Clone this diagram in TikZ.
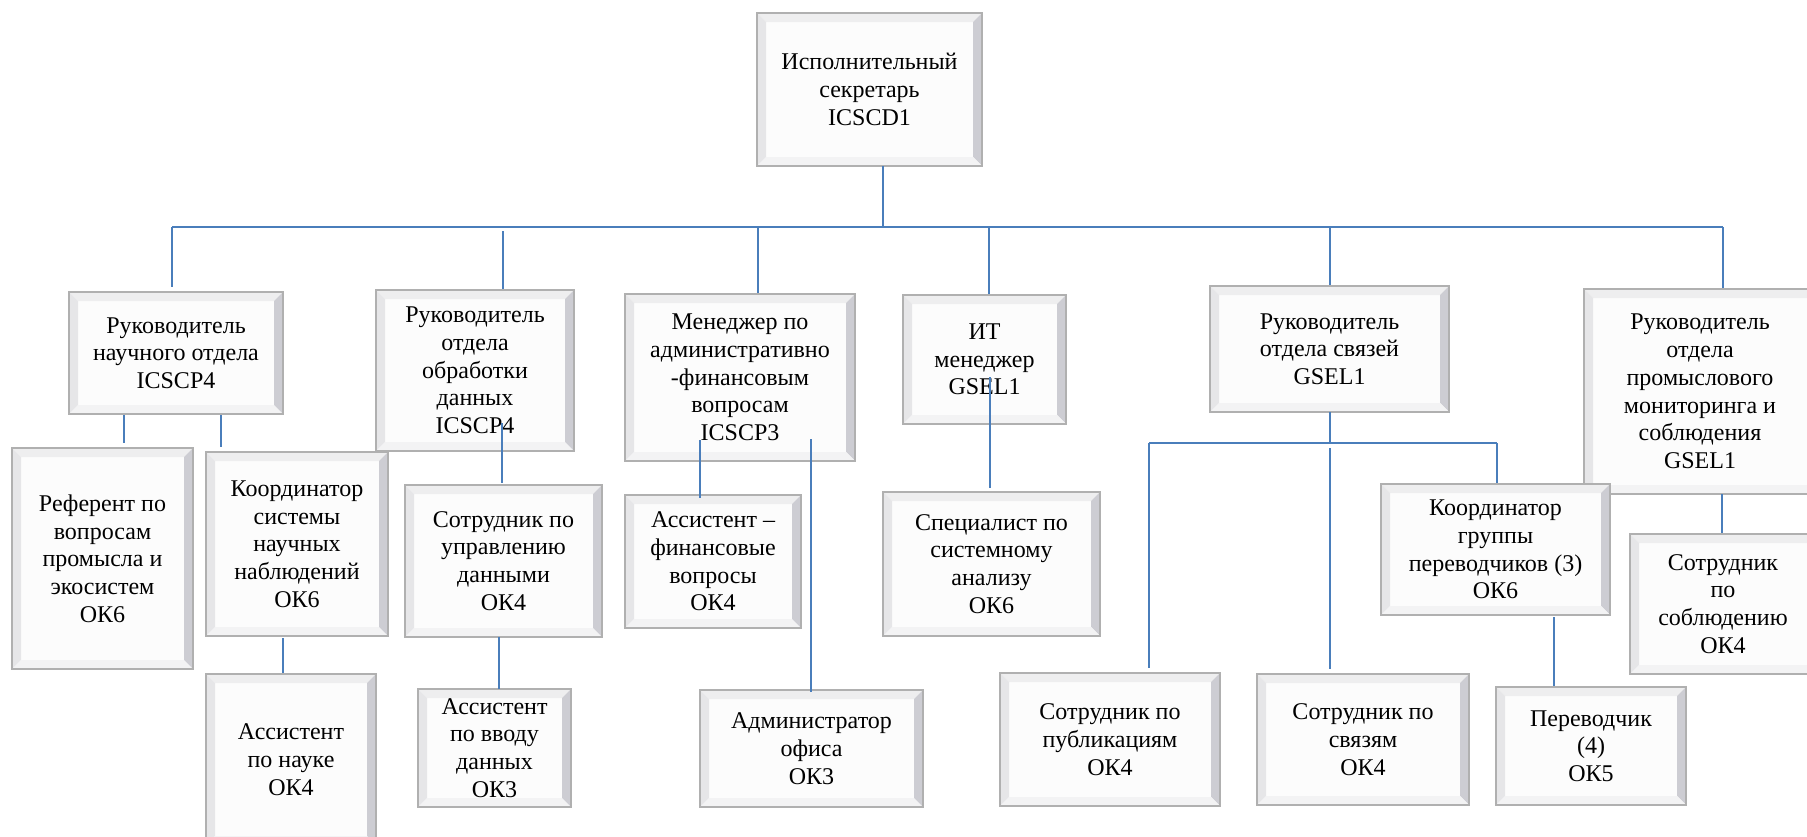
\documentclass[tikz,border=0pt]{standalone}
\usepackage{fontspec}
\setmainfont{Liberation Serif}
\usetikzlibrary{calc}
\definecolor{lineblue}{HTML}{4A7EBB}
\definecolor{bvedgec}{HTML}{B0B0B0}
\definecolor{bvinc}{HTML}{FCFCFC}
\definecolor{bvtopc}{HTML}{EEEEEF}
\definecolor{bvleftc}{HTML}{E6E6E8}
\definecolor{bvrightc}{HTML}{CDCDD3}
\definecolor{bvbotc}{HTML}{F3F3F4}
\tikzset{
  obox/.style={draw=none, inner sep=0pt, align=center, text=black,
    font=\fontsize{24}{27.7}\selectfont},
  conn/.style={draw=lineblue, line width=2.2pt},
  bvedge/.style={draw=bvedgec, line width=1.3pt},
}
\def\bvw{9}
\newcommand{\obx}[6]{%
  \fill[bvinc] (#2,#3) rectangle (#4,#5);
  \fill[bvtopc] (#2,#3) -- (#4,#3) -- ({#4-\bvw},{#3+\bvw}) -- ({#2+\bvw},{#3+\bvw}) -- cycle;
  \fill[bvleftc] (#2,#3) -- ({#2+\bvw},{#3+\bvw}) -- ({#2+\bvw},{#5-\bvw}) -- (#2,#5) -- cycle;
  \fill[bvrightc] (#4,#3) -- ({#4-\bvw},{#3+\bvw}) -- ({#4-\bvw},{#5-\bvw}) -- (#4,#5) -- cycle;
  \fill[bvbotc] (#2,#5) -- ({#2+\bvw},{#5-\bvw}) -- ({#4-\bvw},{#5-\bvw}) -- (#4,#5) -- cycle;
  \draw[bvedge] (#2,#3) rectangle (#4,#5);
  \node[obox, minimum width={(#4-#2)*1pt}, minimum height={(#5-#3)*1pt}] (#1) at ({(#2+#4)/2},{(#3+#5)/2}) {#6};
}
\begin{document}
\begin{tikzpicture}[x=1pt,y=-1pt]
\fill[white] (0,0) rectangle (1807,836);
\useasboundingbox (0,0) rectangle (1807,836);

% top
\obx{A}{757}{13}{982}{166}{Исполнительный\\секретарь\\ICSCD1}
% row 1
\obx{B1}{69}{292}{283}{414}{Руководитель\\научного отдела\\ICSCP4}
\obx{B2}{376}{290}{574}{451}{Руководитель\\отдела\\обработки\\данных\\ICSCP4}
\obx{B3}{625}{294}{855}{461}{Менеджер по\\административно\\-финансовым\\вопросам\\ICSCP3}
\obx{B4}{903}{295}{1066}{424}{ИТ\\менеджер\\GSEL1}
\obx{B5}{1210}{286}{1449}{412}{Руководитель\\отдела связей\\GSEL1}
\obx{B6}{1584}{289}{1816}{494}{Руководитель\\отдела\\промыслового\\мониторинга и\\соблюдения\\GSEL1}
% row 2
\obx{C1}{12}{448}{193}{669}{Референт по\\вопросам\\промысла и\\экосистем\\ОК6}
\obx{C2}{206}{452}{388}{636}{Координатор\\системы\\научных\\наблюдений\\ОК6}
\obx{C3}{405}{485}{602}{637}{Сотрудник по\\управлению\\данными\\ОК4}
\obx{C4}{625}{495}{801}{628}{Ассистент –\\финансовые\\вопросы\\ОК4}
\obx{C5}{883}{492}{1100}{636}{Специалист по\\системному\\анализу\\ОК6}
\obx{C6}{1381}{484}{1610}{615}{Координатор\\группы\\переводчиков (3)\\ОК6}
\obx{C7}{1630}{534}{1816}{674}{Сотрудник\\по\\соблюдению\\ОК4}
% row 3
\obx{D1}{206}{674}{376}{845}{Ассистент\\по науке\\ОК4}
\obx{D2}{418}{689}{571}{807}{Ассистент\\по вводу\\данных\\ОК3}
\obx{D3}{700}{690}{923}{807}{Администратор\\офиса\\ОК3}
\obx{D4}{1000}{673}{1220}{806}{Сотрудник по\\публикациям\\ОК4}
\obx{D5}{1257}{674}{1469}{805}{Сотрудник по\\связям\\ОК4}
\obx{D6}{1496}{687}{1686}{805}{Переводчик\\(4)\\ОК5}

% coordinates
\coordinate (top) at (883,227);
\coordinate (busL) at (172,227);
\coordinate (busR) at (1723,227);
\coordinate (t2) at (503,227);
\coordinate (t3) at (758,227);
\coordinate (t4) at (989,227);
\coordinate (t5) at (1330,227);
\coordinate (x124) at (124,0);
\coordinate (x221) at (221,0);
\coordinate (x283) at (283,0);
\coordinate (s23) at (502,423);
\coordinate (x499) at (499,0);
\coordinate (s34) at (700,440);
\coordinate (s35) at (811,439);
\coordinate (s45) at (990,377);
\coordinate (hl) at (1149,443);
\coordinate (hm) at (1330,443);
\coordinate (hr) at (1497,443);
\coordinate (x1554) at (1554,0);
\coordinate (x1722) at (1722,0);

% connectors
\draw[conn] (A.south -| top) -- (top);
\draw[conn] (busL) -- (busR);
\draw[conn] (busL) -- ([yshift=5pt]busL |- B1.north);
\draw[conn] ([yshift=-4pt]t2) -- ([yshift=1pt]t2 |- B2.north);
\draw[conn] (t3) -- ([yshift=1pt]t3 |- B3.north);
\draw[conn] (t4) -- ([yshift=1pt]t4 |- B4.north);
\draw[conn] (t5) -- ([yshift=1pt]t5 |- B5.north);
\draw[conn] (busR) -- ([yshift=1pt]busR |- B6.north);

\draw[conn] ([yshift=-1pt]B1.south -| x124) -- ([yshift=5pt]C1.north -| x124);
\draw[conn] ([yshift=-1pt]B1.south -| x221) -- ([yshift=5pt]C2.north -| x221);
\draw[conn] ([yshift=-2pt]C2.south -| x283) -- ([yshift=1pt]D1.north -| x283);
\draw[conn] (s23) -- ([yshift=2pt]s23 |- C3.north);
\draw[conn] (C3.south -| x499) -- (D2.north -| x499);
\draw[conn] (s34) -- ([yshift=-3pt]s34 |- C4.north);
\draw[conn] (s35) -- ([yshift=-2pt]s35 |- D3.north);
\draw[conn] (s45) -- ([yshift=4pt]s45 |- C5.north);
\draw[conn] (B5.south -| hm) -- (hm);
\draw[conn] (hl) -- (hr);
\draw[conn] (hl) -- ([yshift=5pt]hl |- D4.north);
\draw[conn] ([yshift=-5pt]hm) -- ([yshift=5pt]hm |- D5.north);
\draw[conn] (hr) -- ([yshift=1pt]hr |- C6.north);
\draw[conn] ([yshift=-2pt]C6.south -| x1554) -- ([yshift=1pt]D6.north -| x1554);
\draw[conn] (B6.south -| x1722) -- ([yshift=1pt]C7.north -| x1722);
\end{tikzpicture}
\end{document}
